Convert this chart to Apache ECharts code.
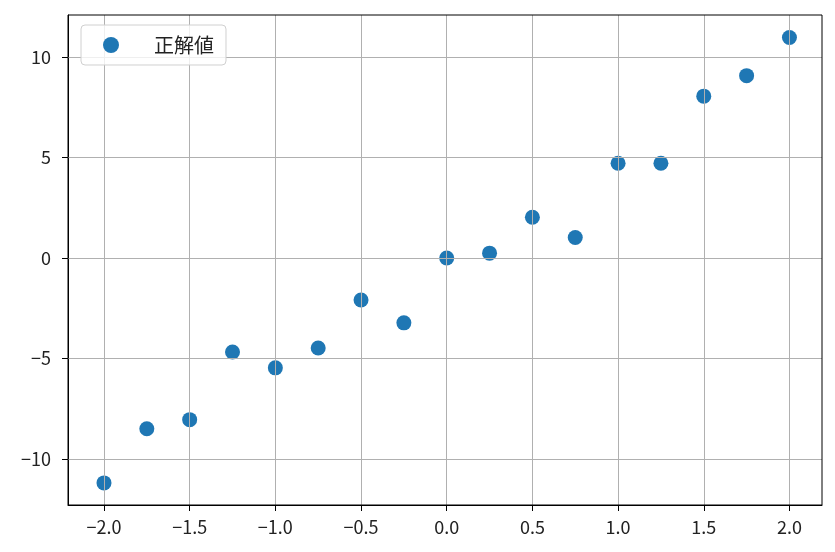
<!DOCTYPE html>
<html>
<head>
<meta charset="utf-8">
<script src="https://cdn.jsdelivr.net/npm/echarts@6/dist/echarts.min.js"></script>
<style>html,body{margin:0;padding:0;background:#fff}#c{width:835px;height:552px}</style>
</head>
<body>
<div id="c"></div>
<script>
const xValues = [-2.0, -1.75, -1.5, -1.25, -1.0, -0.75, -0.5, -0.25, 0.0, 0.25, 0.5, 0.75, 1.0, 1.25, 1.5, 1.75, 2.0];
const yValues = [-11.2, -8.5, -8.05, -4.68, -5.47, -4.48, -2.09, -3.23, 0.0, 0.24, 2.03, 1.02, 4.72, 4.72, 8.06, 9.08, 10.98];
const xTicks = [-2.0, -1.5, -1.0, -0.5, 0.0, 0.5, 1.0, 1.5, 2.0];
const yTicks = [-10, -5, 0, 5, 10];
const seriesName = '正解値';

const font = '"Noto Sans CJK JP", "Noto Sans", sans-serif';
const chart = echarts.init(document.getElementById('c'));
const points = xValues.map((x, i) => [x, yValues[i]]);

function baseX(overlay) {
  return {
    type: 'value', min: -2.21, max: 2.19, gridIndex: 0,
    z: overlay ? 5 : 0,
    axisLine: { show: !overlay, onZero: false, lineStyle: { color: '#000', width: 1 } },
    axisTick: { show: !overlay, customValues: xTicks, length: 6, lineStyle: { color: '#000' } },
    axisLabel: { show: !overlay, customValues: xTicks, margin: 13, color: '#222', fontSize: 18, fontFamily: font,
      formatter: v => (v < 0 ? '\u2212' : '') + Math.abs(v).toFixed(1) },
    splitLine: { show: overlay, lineStyle: { color: '#b0b0b0', width: 1 } }
  };
}
function baseY(overlay) {
  return {
    type: 'value', min: -12.3, max: 12.1, gridIndex: 0,
    z: overlay ? 5 : 0,
    axisLine: { show: !overlay, onZero: false, lineStyle: { color: '#000', width: 1 } },
    axisTick: { show: !overlay, customValues: yTicks, length: 6, lineStyle: { color: '#000' } },
    axisLabel: { show: !overlay, customValues: yTicks, margin: 17, color: '#222', fontSize: 18, fontFamily: font,
      formatter: v => (v < 0 ? '\u2212' : '') + Math.abs(v) },
    splitLine: { show: overlay, lineStyle: { color: '#b0b0b0', width: 1 } }
  };
}

chart.setOption({
  animation: false,
  backgroundColor: '#fff',
  grid: { left: 68, right: 13, top: 15, bottom: 47, show: true, borderColor: '#000', borderWidth: 1, z: 6 },
  xAxis: [baseX(false), baseX(true)],
  yAxis: [baseY(false), baseY(true)],
  legend: {
    left: 81, top: 25,
    padding: [10, 12, 10, 22],
    borderColor: '#d0d0d0', borderWidth: 1, borderRadius: 4,
    backgroundColor: 'rgba(255,255,255,0.8)',
    itemWidth: 16, itemHeight: 16,
    icon: 'circle',
    textStyle: { fontSize: 20, fontFamily: font, color: '#222', padding: [0, 0, 0, 30] },
    data: [seriesName],
    z: 10
  },
  series: [{
    name: seriesName,
    type: 'scatter',
    xAxisIndex: 0, yAxisIndex: 0,
    data: points,
    symbolSize: 15,
    itemStyle: { color: '#1f77b4', opacity: 1 },
    z: 2
  }]
});
</script>
</body>
</html>
